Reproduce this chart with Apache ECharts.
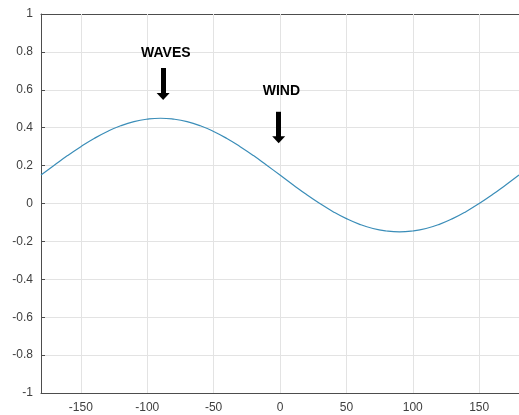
<!DOCTYPE html>
<html>
<head>
<meta charset="utf-8">
<script src="https://cdn.jsdelivr.net/npm/echarts@6/dist/echarts.min.js"></script>
<style>
  html, body { margin: 0; padding: 0; background: #fff; }
  #chart { width: 519px; height: 415px; }
</style>
</head>
<body>
<div id="chart"></div>
<script>
// x in degrees, curve values every 10 degrees
const xs = [-180, -170, -160, -150, -140, -130, -120, -110, -100, -90,
    -80, -70, -60, -50, -40, -30, -20, -10, 0,
    10, 20, 30, 40, 50, 60, 70, 80, 90,
    100, 110, 120, 130, 140, 150, 160, 170, 180];
const ys = [0.15, 0.202, 0.253, 0.30, 0.343, 0.38, 0.41, 0.432, 0.445, 0.45,
    0.445, 0.432, 0.41, 0.38, 0.343, 0.30, 0.253, 0.202, 0.15,
    0.098, 0.047, 0.0, -0.043, -0.08, -0.11, -0.132, -0.145, -0.15,
    -0.145, -0.132, -0.11, -0.08, -0.043, 0.0, 0.047, 0.098, 0.15];

// tick labels on x
const xTicks = [-150, -100, -50, 0, 50, 100, 150];

// annotations: label, text position, arrow (top -> tip)
const annoNames = ['WAVES', 'WIND'];
const annoTextX = [-86, 1];
const annoTextY = [0.793, 0.594];
const arrowX = [-88, -1];
const arrowTop = [0.715, 0.484];
const arrowTip = [0.546, 0.318];

const chart = echarts.init(document.getElementById('chart'));

const headH = 7 / 189.5; // arrow head height in data units
const axisColor = '#4d4d4d';
const gridColor = '#e3e3e3';
const labelStyle = { color: '#404040', fontSize: 12, fontFamily: 'Liberation Sans, Arial' };

const option = {
    backgroundColor: '#fff',
    animation: false,
    grid: { left: 41, top: 14, width: 483, height: 379 },
    xAxis: [
        {
            type: 'value', min: -180, max: 180,
            position: 'bottom',
            axisLine: { show: true, onZero: false, lineStyle: { color: axisColor } },
            axisTick: { show: true, inside: true, length: 4, customValues: xTicks, lineStyle: { color: axisColor } },
            axisLabel: Object.assign({ margin: 9, customValues: xTicks }, labelStyle),
            splitLine: { show: false }
        },
        {
            type: 'value', min: -180, max: 180,
            position: 'top',
            axisLine: { show: true, onZero: false, lineStyle: { color: axisColor } },
            axisTick: { show: true, inside: true, length: 4, customValues: xTicks, lineStyle: { color: axisColor } },
            axisLabel: { show: false },
            splitLine: { show: false }
        }
    ],
    yAxis: {
        type: 'value', min: -1, max: 1, interval: 0.2,
        axisLine: { show: true, onZero: false, lineStyle: { color: axisColor } },
        axisTick: { show: true, inside: true, length: 4, lineStyle: { color: axisColor } },
        axisLabel: Object.assign({ margin: 8 }, labelStyle),
        splitLine: { show: true, lineStyle: { color: gridColor } }
    },
    series: [{
        // vertical grid lines at the x tick positions
        type: 'line',
        data: [],
        silent: true,
        z: 1,
        markLine: {
            silent: true,
            z: 1,
            symbol: 'none',
            label: { show: false },
            lineStyle: { color: gridColor, width: 1, type: 'solid' },
            data: xTicks.map(v => ({ xAxis: v }))
        }
    }, {
        type: 'line',
        data: xs.map((x, i) => [x, ys[i]]),
        smooth: true,
        showSymbol: false,
        lineStyle: { color: '#3a8db8', width: 1.2 },
        z: 3,
        markLine: {
            silent: true,
            z: 6,
            symbol: ['none', 'triangle'],
            symbolSize: [13, 7],
            label: { show: false },
            lineStyle: { color: '#000', width: 5, type: 'solid' },
            data: arrowX.map((x, i) => [
                { coord: [x, arrowTop[i]] },
                { coord: [x, arrowTip[i] + headH / 2] }
            ])
        },
        markPoint: {
            silent: true,
            symbol: 'circle',
            symbolSize: 0,
            label: {
                show: true,
                position: 'inside',
                color: '#000',
                fontWeight: 'bold',
                fontSize: 14,
                fontFamily: 'Liberation Sans, Arial',
                formatter: p => p.name
            },
            data: annoNames.map((n, i) => ({ name: n, coord: [annoTextX[i], annoTextY[i]] }))
        }
    }]
};

chart.setOption(option);
</script>
</body>
</html>
